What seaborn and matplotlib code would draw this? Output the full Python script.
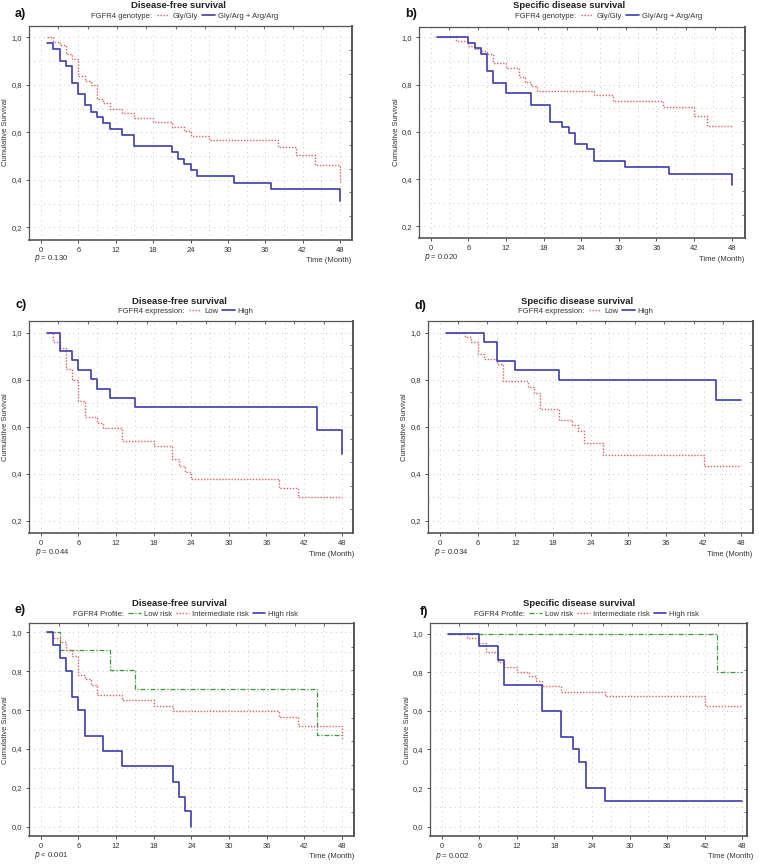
import matplotlib
matplotlib.use("Agg")
import matplotlib.pyplot as plt
import seaborn as sns
import numpy as np
import pandas as pd
from matplotlib.lines import Line2D
from matplotlib.ticker import MultipleLocator, FuncFormatter

# ---------------- data ----------------
A_GG_T = [1, 2, 3, 4, 5, 6, 7, 8, 9, 10, 11, 13, 15, 18, 21, 23, 24, 27, 38, 41, 44, 48]
A_GG_S = [1.0, 0.98, 0.966, 0.93, 0.907, 0.837, 0.818, 0.80, 0.74, 0.725, 0.70, 0.683, 0.662, 0.644, 0.624, 0.606, 0.585, 0.568, 0.537, 0.503, 0.462, 0.392]
A_GA_T = [1, 2, 3, 4, 5, 6, 7, 8, 9, 10, 11, 13, 15, 21, 22, 23, 24, 25, 31, 37, 48]
A_GA_S = [0.976, 0.95, 0.902, 0.879, 0.809, 0.76, 0.714, 0.688, 0.663, 0.639, 0.614, 0.59, 0.542, 0.516, 0.49, 0.467, 0.441, 0.416, 0.388, 0.363, 0.312]

B_GG_T = [1, 4, 6, 7, 8, 9, 10, 12, 14, 15, 16, 17, 26, 29, 37, 42, 44, 48]
B_GG_S = [1.0, 0.985, 0.963, 0.949, 0.941, 0.928, 0.89, 0.869, 0.834, 0.813, 0.793, 0.773, 0.756, 0.732, 0.704, 0.668, 0.623, 0.623]
B_GA_T = [1, 6, 7, 8, 9, 10, 12, 16, 19, 21, 22, 23, 25, 26, 31, 38, 48]
B_GA_S = [1.0, 0.975, 0.954, 0.93, 0.859, 0.808, 0.763, 0.713, 0.642, 0.62, 0.597, 0.548, 0.527, 0.477, 0.451, 0.421, 0.376]

C_LOW_T = [1, 2, 3, 4, 5, 6, 7, 9, 10, 13, 18, 21, 22, 23, 24, 38, 41, 48]
C_LOW_S = [1.0, 0.958, 0.936, 0.844, 0.80, 0.708, 0.64, 0.618, 0.596, 0.54, 0.517, 0.465, 0.432, 0.407, 0.378, 0.34, 0.30, 0.30]
C_HIGH_T = [1, 3, 5, 6, 8, 9, 11, 15, 44, 48]
C_HIGH_S = [1.0, 0.922, 0.885, 0.843, 0.803, 0.762, 0.724, 0.684, 0.585, 0.486]

D_LOW_T = [1, 4, 5, 6, 7, 9, 10, 14, 15, 16, 19, 21, 22, 23, 26, 42, 48]
D_LOW_S = [1.0, 0.979, 0.958, 0.911, 0.887, 0.865, 0.793, 0.769, 0.745, 0.676, 0.63, 0.606, 0.581, 0.531, 0.482, 0.434, 0.434]
D_HIGH_T = [1, 7, 9, 12, 19, 44, 48]
D_HIGH_S = [1.0, 0.958, 0.88, 0.839, 0.80, 0.713, 0.713]

E_LOW_T = [1, 3, 11, 15, 44, 48]
E_LOW_S = [1.0, 0.91, 0.808, 0.708, 0.47, 0.47]
E_INT_T = [1, 2, 3, 4, 5, 6, 7, 8, 9, 13, 18, 21, 38, 41, 48]
E_INT_S = [1.0, 0.97, 0.95, 0.91, 0.88, 0.782, 0.76, 0.729, 0.677, 0.653, 0.622, 0.594, 0.562, 0.519, 0.447]
E_HIGH_T = [1, 2, 3, 4, 5, 6, 7, 10, 13, 21, 22, 23, 24]
E_HIGH_S = [1.0, 0.933, 0.866, 0.80, 0.665, 0.60, 0.467, 0.387, 0.31, 0.232, 0.155, 0.079, 0.0]

F_LOW_T = [1, 44, 48]
F_LOW_S = [1.0, 0.80, 0.80]
F_INT_T = [1, 4, 6, 7, 9, 10, 12, 14, 15, 16, 19, 26, 42, 48]
F_INT_S = [1.0, 0.978, 0.952, 0.903, 0.855, 0.827, 0.803, 0.779, 0.753, 0.727, 0.70, 0.678, 0.623, 0.623]
F_HIGH_T = [1, 6, 9, 10, 16, 19, 21, 22, 23, 26, 48]
F_HIGH_S = [1.0, 0.934, 0.865, 0.734, 0.60, 0.467, 0.40, 0.334, 0.20, 0.134, 0.134]

TITLES = ["Disease-free survival", "Specific disease survival"] * 3
PANEL_LABELS = ["a)", "b)", "c)", "d)", "e)", "f)"]
LEGEND_TITLES = ["FGFR4 genotype:", "FGFR4 genotype:", "FGFR4 expression:", "FGFR4 expression:",
                 "FGFR4 Profile:", "FGFR4 Profile:"]
P_VALUES = ["= 0.130", "= 0.020", "= 0.044", "= 0.034", "< 0.001", "= 0.002"]
X_TICKS = [0, 6, 12, 18, 24, 30, 36, 42, 48]

# ---------------- style ----------------
sns.set_theme(style="white")
plt.rcParams["font.family"] = ["Liberation Sans", "DejaVu Sans"]

W, H = 759, 865
fig = plt.figure(figsize=(W / 100, H / 100), dpi=100)

def fx(x):
    return x / W

def fy(y):
    return 1 - y / H

BLUE = "#3c3cb4"
RED = "#e06060"
GREEN = "#3c963c"
STY = {
    "red": dict(color=RED, linestyle=(0, (1, 1.2)), lw=1.0),
    "blue": dict(color=BLUE, linestyle="-", lw=1.2),
    "green": dict(color=GREEN, linestyle=(0, (4, 1.5, 1, 1.5)), lw=0.9),
}

panels = [
    dict(box=(29, 26, 352, 240), xlim=(-1.93, 49.93), ylim=(0.147, 1.048), y0=0.2,
         series=[("Gly/Gly", A_GG_T, A_GG_S, "red"), ("Gly/Arg + Arg/Arg", A_GA_T, A_GA_S, "blue")],
         title_xy=(178, 6), leg_xy=(177, 16), lab_xy=(20, 13.5), p_xy=(34, 258.5), t_xy=(351.5, 260.5), yl_xy=(6, 132)),
    dict(box=(419, 27, 745, 238), xlim=(-1.87, 50.12), ylim=(0.151, 1.044), y0=0.2,
         series=[("Gly/Gly", B_GG_T, B_GG_S, "red"), ("Gly/Arg + Arg/Arg", B_GA_T, B_GA_S, "blue")],
         title_xy=(569, 6), leg_xy=(601, 16), lab_xy=(411, 14), p_xy=(424, 257.5), t_xy=(744, 259.5), yl_xy=(396, 132)),
    dict(box=(29, 321, 353, 533), xlim=(-1.87, 49.8), ylim=(0.149, 1.049), y0=0.2,
         series=[("Low", C_LOW_T, C_LOW_S, "red"), ("High", C_HIGH_T, C_HIGH_S, "blue")],
         title_xy=(179, 301), leg_xy=(178, 311), lab_xy=(21, 305), p_xy=(35, 552.5), t_xy=(354, 554), yl_xy=(6, 427)),
    dict(box=(428, 321, 753, 533), xlim=(-1.92, 49.87), ylim=(0.149, 1.049), y0=0.2,
         series=[("Low", D_LOW_T, D_LOW_S, "red"), ("High", D_HIGH_T, D_HIGH_S, "blue")],
         title_xy=(577, 301), leg_xy=(578, 311), lab_xy=(420, 306.5), p_xy=(434, 552.5), t_xy=(752.5, 554), yl_xy=(405, 427)),
    dict(box=(29, 623, 354, 836), xlim=(-1.86, 49.91), ylim=(-0.048, 1.048), y0=0.0,
         series=[("Low risk", E_LOW_T, E_LOW_S, "green"), ("Intermediate risk", E_INT_T, E_INT_S, "red"),
                 ("High risk", E_HIGH_T, E_HIGH_S, "blue")],
         title_xy=(179, 604), leg_xy=(178, 614), lab_xy=(20.5, 610), p_xy=(34.5, 855.5), t_xy=(354, 856.5), yl_xy=(6, 730)),
    dict(box=(430, 623, 747, 836), xlim=(-1.87, 48.75), ylim=(-0.048, 1.055), y0=0.0,
         series=[("Low risk", F_LOW_T, F_LOW_S, "green"), ("Intermediate risk", F_INT_T, F_INT_S, "red"),
                 ("High risk", F_HIGH_T, F_HIGH_S, "blue")],
         title_xy=(579.5, 604), leg_xy=(579, 614), lab_xy=(423.5, 611.5), p_xy=(435, 856), t_xy=(753, 857), yl_xy=(407, 730)),
]

comma_fmt = FuncFormatter(lambda v, pos: ("%.1f" % v).replace(".", ","))

for i, pnl in enumerate(panels):
    l, t, r, b = pnl["box"]
    ax = fig.add_axes([fx(l), fy(b), (r - l) / W, (b - t) / H])
    ax.set_facecolor("white")
    for label, tt, ss, key in pnl["series"]:
        df = pd.DataFrame({"time": tt, "surv": ss})
        st = STY[key]
        sns.lineplot(data=df, x="time", y="surv", ax=ax, drawstyle="steps-post",
                     estimator=None, sort=False, legend=False,
                     color=st["color"], linestyle=st["linestyle"], lw=st["lw"])
    ax.set_xlim(*pnl["xlim"])
    ax.set_ylim(*pnl["ylim"])
    ax.set_xticks(X_TICKS)
    ax.set_yticks(np.arange(pnl["y0"], 1.001, 0.2))
    ax.yaxis.set_major_formatter(comma_fmt)
    ax.xaxis.set_minor_locator(MultipleLocator(3))
    ax.yaxis.set_minor_locator(MultipleLocator(0.1))
    ax.grid(True, which="both", color="#c8c8c8", linestyle=(0, (1, 4)), lw=0.7)
    ax.set_xlabel("")
    ax.set_ylabel("")
    ax.tick_params(axis="both", which="major", labelsize=5.5, colors="#333333",
                   length=2, width=0.6, direction="out", pad=3, bottom=True, left=True)
    ax.tick_params(axis="both", which="minor", length=0)
    for s in ax.spines.values():
        s.set_color("#555555")
        s.set_linewidth(0.9)
    ax.spines["right"].set_linewidth(1.4)
    ax.spines["bottom"].set_linewidth(1.2)

    # secondary frame ticks on top and right (decorative, inward)
    top = ax.secondary_xaxis("top")
    x0, x1 = pnl["xlim"]
    top.set_xticks(np.linspace(x0, x1, 12)[1:-1])
    top.tick_params(direction="in", length=2.5, width=0.6, colors="#555555", labeltop=False)
    top.spines["top"].set_visible(False)
    rgt = ax.secondary_yaxis("right")
    y0, y1 = pnl["ylim"]
    rgt.set_yticks(np.linspace(y0, y1, 10)[1:-1])
    rgt.tick_params(direction="in", length=2.5, width=0.6, colors="#555555", labelright=False)
    rgt.spines["right"].set_visible(False)

    # texts
    fig.text(fx(pnl["title_xy"][0]), fy(pnl["title_xy"][1]), TITLES[i], ha="center", va="center",
             fontsize=6.8, fontweight="bold", color="#222222")
    fig.text(fx(pnl["lab_xy"][0]), fy(pnl["lab_xy"][1]), PANEL_LABELS[i], ha="center", va="center",
             fontsize=9, fontweight="bold", color="#111111")
    fig.text(fx(pnl["p_xy"][0]), fy(pnl["p_xy"][1]), r"$p$ " + P_VALUES[i], ha="left", va="center",
             fontsize=5.5, color="#333333")
    fig.text(fx(pnl["t_xy"][0]), fy(pnl["t_xy"][1]), "Time (Month)", ha="right", va="center",
             fontsize=5.5, color="#333333")
    fig.text(fx(pnl["yl_xy"][0]), fy(pnl["yl_xy"][1]), "Cumulative Survival", ha="center", va="center",
             rotation=90, fontsize=5.5, color="#333333")

    handles = [Line2D([], [], alpha=0)]
    labels = [LEGEND_TITLES[i]]
    for label, tt, ss, key in pnl["series"]:
        st = STY[key]
        handles.append(Line2D([], [], color=st["color"], linestyle=st["linestyle"], lw=st["lw"]))
        labels.append(label)
    leg = ax.legend(handles, labels, loc="center", bbox_to_anchor=(fx(pnl["leg_xy"][0]), fy(pnl["leg_xy"][1])),
                    bbox_transform=fig.transFigure, ncol=len(handles), frameon=False, fontsize=5.5,
                    handlelength=1.6, handletextpad=0.4, columnspacing=0.6, borderpad=0, borderaxespad=0)
    for txt in leg.get_texts():
        txt.set_color("#333333")

fig.savefig("out.png", dpi=100)
